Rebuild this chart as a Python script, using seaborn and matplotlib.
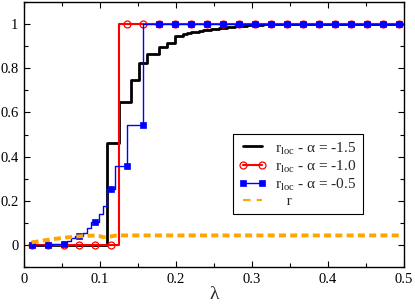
import numpy as np
import matplotlib
matplotlib.use("Agg")
import matplotlib.pyplot as plt
import seaborn as sns
from matplotlib.ticker import MultipleLocator, FormatStrFormatter

# -------------------------------------------------------
# Data (lambda grid, markers every 4th point)
# -------------------------------------------------------
lam = np.linspace(0.01, 0.49825, 94)

r_loc_15 = ([0.0] * 20 + [0.461] * 3 + [0.649] * 3 + [0.746] * 2 + [0.824] * 2
            + [0.866] * 3 + [0.897] * 2 + [0.916] * 2 + [0.946] * 2
            + [0.956, 0.959, 0.962, 0.965, 0.968, 0.971, 0.974, 0.977, 0.979, 0.982, 0.984,
               0.986, 0.988, 0.990, 0.992, 0.993, 0.995, 0.996, 0.997, 0.998, 0.999, 0.999]
            + [1.0] * 33)
r_loc_10 = [0.0] * 23 + [1.0] * 71
r_loc_05 = ([0.0] * 6
            + [0.002, 0.004, 0.006, 0.010, 0.020, 0.030, 0.040, 0.040, 0.056, 0.078,
               0.104, 0.104, 0.138, 0.176, 0.254, 0.254, 0.356, 0.356, 0.356]
            + [0.545] * 4 + [1.0] * 65)
r_glob = ([0.012, 0.014, 0.017, 0.020, 0.023, 0.026, 0.028, 0.030, 0.032, 0.034, 0.036,
           0.038, 0.039, 0.040, 0.041, 0.042, 0.043, 0.040, 0.035, 0.036, 0.039, 0.042]
          + [0.043] * 72)

labels = [r"r$_{\mathrm{loc}}$ - α = -1.5", r"r$_{\mathrm{loc}}$ - α = -1.0",
          r"r$_{\mathrm{loc}}$ - α = -0.5", "   r"]

# -------------------------------------------------------
# Style
# -------------------------------------------------------
sns.set_style("ticks")
plt.rcParams["font.family"] = ["Liberation Serif", "DejaVu Serif"]
plt.rcParams["mathtext.fontset"] = "custom"
plt.rcParams["mathtext.rm"] = "Liberation Serif"

fig = plt.figure(figsize=(4.15, 3.04), dpi=100)
ax = fig.add_axes([0.0578, 0.1217, 0.9157, 0.8717])

sns.lineplot(x=lam, y=r_loc_15, ax=ax, color="black", lw=2.0, drawstyle="steps-pre",
             label=labels[0], estimator=None, sort=False)
sns.lineplot(x=lam, y=r_loc_10, ax=ax, color="red", lw=1.5, drawstyle="steps-pre",
             marker="o", markevery=4, markersize=5, markerfacecolor="none",
             markeredgecolor="red", markeredgewidth=0.9,
             label=labels[1], estimator=None, sort=False)
sns.lineplot(x=lam, y=r_loc_05, ax=ax, color="blue", lw=1.0, drawstyle="steps-pre",
             marker="s", markevery=4, markersize=4.5, markerfacecolor="blue",
             markeredgecolor="blue", markeredgewidth=0.5,
             label=labels[2], estimator=None, sort=False)
sns.lineplot(x=lam, y=r_glob, ax=ax, color="orange", lw=2.8, ls=(0, (1.8, 1.1)),
             label=labels[3], estimator=None, sort=False)

# -------------------------------------------------------
# Axes formatting
# -------------------------------------------------------
ax.set_xlim(0, 0.5)
ax.set_ylim(-0.1, 1.1)
ax.xaxis.set_major_locator(MultipleLocator(0.1))
ax.xaxis.set_minor_locator(MultipleLocator(0.05))
ax.yaxis.set_major_locator(MultipleLocator(0.2))
ax.yaxis.set_minor_locator(MultipleLocator(0.1))
ax.xaxis.set_major_formatter(FormatStrFormatter("%g"))
ax.yaxis.set_major_formatter(FormatStrFormatter("%g"))
ax.tick_params(which="both", direction="in", top=True, right=True, labelsize=10.5,
               width=0.8, colors="black", pad=4)
ax.tick_params(which="major", length=4)
ax.tick_params(which="minor", length=3)
for s in ax.spines.values():
    s.set_linewidth(1.0)
    s.set_color("black")

ax.set_xlabel("λ", fontsize=14, labelpad=0)
ax.set_ylabel("")

handles, _ = ax.get_legend_handles_labels()
leg = ax.legend(handles, labels, loc="lower left", bbox_to_anchor=(0.55, 0.2),
                borderaxespad=0, fontsize=11, numpoints=2, handlelength=1.8,
                handletextpad=0.6, labelspacing=0.1, borderpad=0.38,
                fancybox=False, framealpha=1, edgecolor="black")
leg.get_frame().set_linewidth(0.8)
r_handle = leg.get_lines()[3]
r_handle.set_linewidth(1.5)
r_handle.set_dashes([3.6, 3.0])
r_handle.set_dash_capstyle("butt")

fig.savefig("out.png", dpi=100)
